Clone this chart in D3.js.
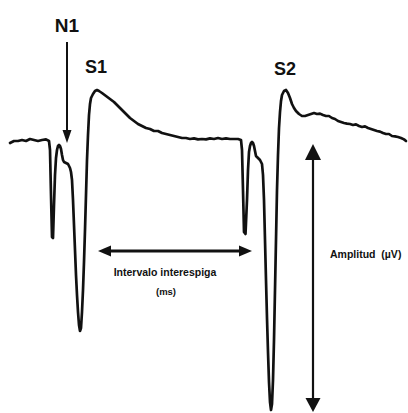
<!DOCTYPE html>
<html>
<head>
<meta charset="utf-8">
<script src="https://cdn.jsdelivr.net/npm/d3@7"></script>
<style>
  html, body { margin: 0; padding: 0; background: #fff; }
  svg { display: block; }
  text { font-family: "Liberation Sans", Arial, sans-serif; font-weight: bold; fill: #111; }
</style>
</head>
<body>
<svg id="chart" width="408" height="413"></svg>
<script>
// Recorded field potential: time (ms) and voltage (µV), two stimuli S1 and S2
const timeMs = [
  0.0, 0.4, 0.8, 1.2, 1.6, 2.0, 2.4, 2.8, 3.2, 3.6, 3.9,
  4.0, 4.1, 4.2, 4.3, 4.4, 4.5, 4.6, 4.7, 4.8, 4.9, 5.0, 5.1, 5.2, 5.3, 5.4, 5.6, 5.8,
  6.0, 6.1, 6.2, 6.3, 6.4, 6.5, 6.6, 6.7, 6.8, 6.9, 7.0, 7.1, 7.2, 7.3, 7.4, 7.5, 7.6, 7.7, 7.8, 7.9,
  8.0, 8.1, 8.3, 8.5, 8.7, 8.9, 9.2, 9.6, 10.0, 10.4, 10.8, 11.2, 11.6, 12.0, 12.4, 12.8,
  13.2, 13.6, 14.0, 14.4, 14.8, 15.2, 15.6, 16.0, 16.4, 16.8, 17.2, 17.6, 18.0, 18.4, 18.8,
  19.2, 19.6, 20.0, 20.4, 20.8, 21.2, 21.6, 22.0, 22.4, 22.8, 23.1,
  23.2, 23.3, 23.4, 23.55, 23.7, 23.8, 23.9, 24.0, 24.1, 24.2, 24.3, 24.4, 24.5, 24.6, 24.8,
  25.0, 25.2, 25.3, 25.4, 25.5, 25.6, 25.7, 25.8, 25.9, 26.0, 26.1, 26.2, 26.3, 26.4, 26.5,
  26.6, 26.7, 26.8, 26.9, 27.0, 27.1, 27.2, 27.4, 27.6, 27.8, 28.0, 28.2, 28.4, 28.6, 28.9,
  29.2, 29.5, 29.8, 30.1, 30.4, 30.7, 31.0, 31.3, 31.6, 31.9, 32.2, 32.5, 32.8, 33.1, 33.4,
  33.7, 34.0, 34.3, 34.6, 34.9, 35.2, 35.5, 35.8, 36.1, 36.4, 36.7, 37.0, 37.3, 37.6, 37.9,
  38.2, 38.5, 38.8, 39.1, 39.4, 39.6
];
const voltageUv = [
  -1.5, -0.5, -0.5, 0, -0.5, 0.5, 0, -0.5, 0, 0.3, -0.5,
  -5, -27.5, -48.5, -49, -32.5, -17.5, -9, -5, -3, -2.5, -3, -4.5, -7.5, -10, -11, -11.5, -12,
  -14, -16, -20, -30, -42.5, -55, -67.5, -77.5, -86, -92.5, -95.5, -94, -86, -75, -61, -45, -27.5, -10, 2.5, 12.5,
  18, 21, 23, 24.5, 25, 24.5, 23.5, 22, 20.5, 19, 17, 15, 13, 11, 9.5, 8,
  7, 6, 5.5, 4.5, 4.5, 3.5, 3, 2.5, 2, 1.5, 1, 1, 0.5, 0.8, 0.3,
  0.5, 0.3, 0.8, 0.5, 1, 0.5, 0.8, 0.5, 0.5, 0.5, 0,
  -5, -25, -46, -47, -30, -15, -6, -3, -1.5, -1, -1.5, -3, -5.5, -8, -9,
  -10, -12, -17.5, -30, -50, -70, -89, -106, -121, -131, -135, -132, -120, -100, -75,
  -50, -25, -7.5, 6, 14, 19.5, 22.5, 24.5, 25, 23.5, 21, 18, 16, 14.5, 13,
  12, 12, 12.5, 13, 13.5, 13, 13.2, 12.5, 12, 12, 11, 10.5, 9.5, 9, 8.5,
  8.2, 8, 7.5, 7.8, 7, 6.5, 6.8, 6, 5.5, 5, 4.5, 4.2, 3.5, 3, 3,
  2, 1.8, 1.5, 1, 0.3, -0.5
];

// Annotation anchors, in the same time / voltage units
const n1Arrow = { t: 5.7, from: 49, to: -1.5 };
const intervalArrow = { from: 8.8, to: 24.2, v: -55.5 };
const amplitudeArrow = { t: 30.3, from: -2, to: -136 };

// Text labels
const peakLabels = [
  { text: "N1", x: 67, y: 32, size: 19 },
  { text: "S1", x: 96, y: 73, size: 18 },
  { text: "S2", x: 285, y: 75, size: 18 }
];
const intervalLabels = ["Intervalo interespiga", "(ms)"];
const amplitudeLabel = "Amplitud\u00a0 (\u00b5V)";

const svg = d3.select("#chart");
const x = d3.scaleLinear().domain([0, 40]).range([10, 410]);
const y = d3.scaleLinear().domain([0, -100]).range([140, 340]);

const points = timeMs.map((t, i) => [t, voltageUv[i]]);

svg.append("rect").attr("width", 408).attr("height", 413).attr("fill", "#fff");

svg.append("path")
  .datum(points)
  .attr("fill", "none")
  .attr("stroke", "#111")
  .attr("stroke-width", 2.7)
  .attr("stroke-linejoin", "round")
  .attr("stroke-linecap", "round")
  .attr("d", d3.line().x(d => x(d[0])).y(d => y(d[1])));

// Draws a straight arrow with a filled triangular head at the "to" end
function arrowHead(g, x1, y1, x2, y2, len, half) {
  const a = Math.atan2(y2 - y1, x2 - x1);
  const bx = x2 - len * Math.cos(a), by = y2 - len * Math.sin(a);
  const px = -Math.sin(a) * half, py = Math.cos(a) * half;
  g.append("path")
    .attr("d", `M${x2},${y2}L${bx + px},${by + py}L${bx - px},${by - py}Z`)
    .attr("fill", "#111");
}

// N1 pointer
{
  const g = svg.append("g");
  const xx = x(n1Arrow.t), y1 = y(n1Arrow.from), y2 = y(n1Arrow.to);
  g.append("line").attr("x1", xx).attr("x2", xx).attr("y1", y1).attr("y2", y2 - 10)
    .attr("stroke", "#111").attr("stroke-width", 2);
  arrowHead(g, xx, y1, xx, y2, 13, 4.5);
}

// Inter-spike interval double arrow
{
  const g = svg.append("g");
  const x1 = x(intervalArrow.from), x2 = x(intervalArrow.to), yy = y(intervalArrow.v);
  g.append("line").attr("x1", x1 + 10).attr("x2", x2 - 10).attr("y1", yy).attr("y2", yy)
    .attr("stroke", "#111").attr("stroke-width", 3);
  arrowHead(g, x2, yy, x1, yy, 13, 5.5);
  arrowHead(g, x1, yy, x2, yy, 13, 5.5);
}

// Amplitude double arrow
{
  const g = svg.append("g");
  const xx = x(amplitudeArrow.t), y1 = y(amplitudeArrow.from), y2 = y(amplitudeArrow.to);
  g.append("line").attr("x1", xx).attr("x2", xx).attr("y1", y1 + 12).attr("y2", y2 - 12)
    .attr("stroke", "#111").attr("stroke-width", 2.2);
  arrowHead(g, xx, y2, xx, y1, 16, 8);
  arrowHead(g, xx, y1, xx, y2, 14, 7.5);
}

svg.selectAll("text.peak")
  .data(peakLabels)
  .join("text")
  .attr("class", "peak")
  .attr("x", d => d.x)
  .attr("y", d => d.y)
  .attr("text-anchor", "middle")
  .attr("font-size", d => d.size)
  .text(d => d.text);

svg.append("text")
  .attr("x", 165).attr("y", 276)
  .attr("text-anchor", "middle")
  .attr("font-size", 10.5)
  .text(intervalLabels[0]);
svg.append("text")
  .attr("x", 166).attr("y", 295)
  .attr("text-anchor", "middle")
  .attr("font-size", 9.5)
  .text(intervalLabels[1]);

svg.append("text")
  .attr("x", 330).attr("y", 258)
  .attr("font-size", 10.5)
  .text(amplitudeLabel);
</script>
</body>
</html>
